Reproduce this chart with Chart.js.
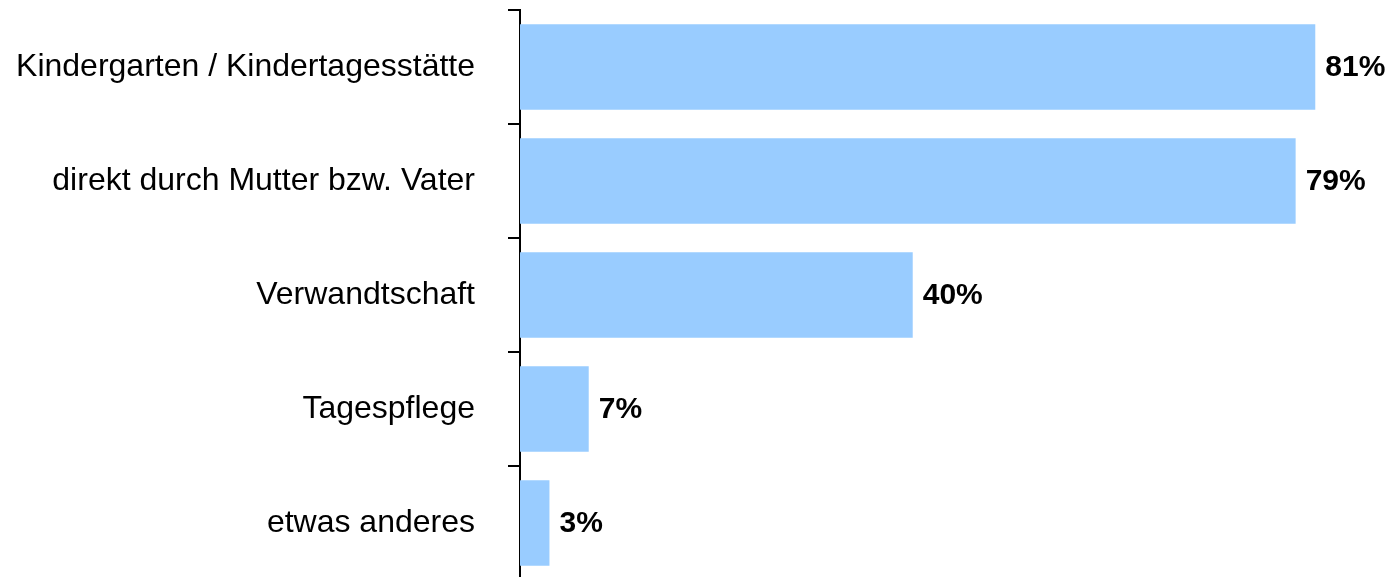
<!DOCTYPE html>
<html>
<head>
<meta charset="utf-8">
<script src="https://cdn.jsdelivr.net/npm/chart.js@4"></script>
<style>
  html, body { margin: 0; padding: 0; background: #fff; overflow: hidden; }
  #wrap { width: 1396px; height: 590px; }
</style>
</head>
<body>
<div id="wrap"><canvas id="mainChart" width="1396" height="590"></canvas></div>
<script>
const categories = [
  'Kindergarten / Kindertagesstätte',
  'direkt durch Mutter bzw. Vater',
  'Verwandtschaft',
  'Tagespflege',
  'etwas anderes'
];
const values = [81, 79, 40, 7, 3];

const FONT = 'Arial, "Liberation Sans", sans-serif';

// draws the "81%" labels next to each bar
const valueLabels = {
  id: 'valueLabels',
  afterDatasetsDraw(chart) {
    const ctx = chart.ctx;
    const meta = chart.getDatasetMeta(0);
    ctx.save();
    ctx.font = 'bold 30px ' + FONT;
    ctx.fillStyle = '#000';
    ctx.textAlign = 'left';
    ctx.textBaseline = 'middle';
    meta.data.forEach((bar, i) => {
      ctx.fillText(values[i] + '%', bar.x + 10, bar.y + 1);
    });
    ctx.restore();
  }
};

const ctx = document.getElementById('mainChart').getContext('2d');
const chart = new Chart(ctx, {
  type: 'bar',
  data: {
    labels: categories,
    datasets: [{
      data: values,
      backgroundColor: '#99CCFF',
      borderWidth: 0,
      categoryPercentage: 1,
      barPercentage: 0.75
    }]
  },
  options: {
    indexAxis: 'y',
    responsive: false,
    animation: false,
    layout: { padding: { top: 10, bottom: 10, right: 12, left: 0 } },
    plugins: {
      legend: { display: false },
      tooltip: { enabled: false }
    },
    scales: {
      x: {
        display: false,
        min: 0,
        max: 88
      },
      y: {
        afterFit(scale) {
          scale.width = 520;
          scale.paddingTop = 0;
          scale.paddingBottom = 0;
        },
        border: { display: true, color: '#000', width: 2 },
        grid: {
          offset: true,
          drawOnChartArea: false,
          drawTicks: true,
          tickLength: 12,
          color: '#000',
          lineWidth: 2
        },
        ticks: {
          color: '#000',
          padding: 33,
          font: { family: FONT, size: 32 }
        }
      }
    }
  },
  plugins: [valueLabels]
});
</script>
</body>
</html>
